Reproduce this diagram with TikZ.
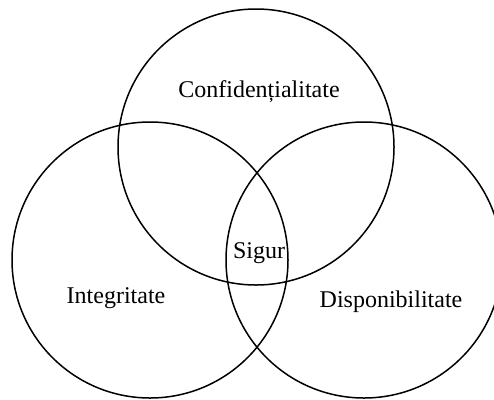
\documentclass[tikz,border=0pt]{standalone}
\usepackage{fontspec}
\setmainfont{Liberation Serif}
\begin{document}
\begin{tikzpicture}
[x=1pt,y=-1pt,
  setdecorate/.style={shape=circle,draw,line width=1.5pt,minimum size=276pt,inner sep=0pt},%
  labeldecorate/.style={anchor=base,inner sep=0pt,font=\fontsize{24}{28}\selectfont}]
\useasboundingbox (0,0) rectangle (494,399);
%% sets or circles
\foreach \nodename/\x/\y in {conf/256/147, integ/150/260, disp/364/260}
{
  \node (\nodename) at (\x,\y) [setdecorate] {};
}
%% labels
\foreach \nodename/\x/\y/\text in {confl/259/97/Confidențialitate,
  integl/116/303/Integritate, displ/391/307/Disponibilitate, sigur/259/258/Sigur}
{
  \node (\nodename) at (\x,\y) [labeldecorate] {\text};
}
\end{tikzpicture}
\end{document}
